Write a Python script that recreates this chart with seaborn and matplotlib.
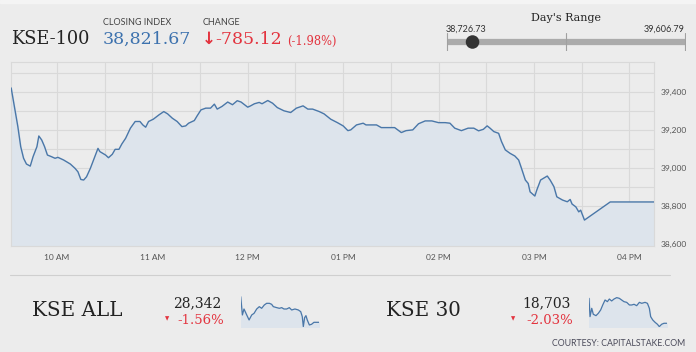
import numpy as np
import pandas as pd
import matplotlib
matplotlib.use("Agg")
import matplotlib.pyplot as plt
import seaborn as sns

# ---- data ----
kse100_time = [9.52, 9.56, 9.59, 9.62, 9.65, 9.68, 9.72, 9.75, 9.79, 9.81, 9.84, 9.87, 9.90, 9.94, 9.98,
               10.01, 10.07, 10.14, 10.19, 10.22, 10.25, 10.28, 10.31, 10.35, 10.39, 10.43, 10.45, 10.51,
               10.54, 10.58, 10.61, 10.65, 10.68, 10.72, 10.77, 10.82, 10.87, 10.90, 10.93, 10.96, 11.01,
               11.07, 11.12, 11.16, 11.21, 11.26, 11.31, 11.35, 11.38, 11.44, 11.47, 11.51, 11.56, 11.61,
               11.65, 11.68, 11.73, 11.79, 11.84, 11.89, 11.93, 12.00, 12.03, 12.07, 12.12, 12.15, 12.21,
               12.26, 12.31, 12.38, 12.45, 12.51, 12.58, 12.63, 12.68, 12.75, 12.80, 12.87, 12.94, 13.00,
               13.05, 13.08, 13.14, 13.21, 13.24, 13.35, 13.40, 13.54, 13.61, 13.66, 13.73, 13.79, 13.86,
               13.93, 14.00, 14.07, 14.12, 14.17, 14.24, 14.31, 14.37, 14.42, 14.47, 14.51, 14.54, 14.58,
               14.63, 14.66, 14.70, 14.75, 14.80, 14.84, 14.87, 14.91, 14.94, 14.96, 15.01, 15.03, 15.07,
               15.10, 15.14, 15.17, 15.21, 15.24, 15.30, 15.35, 15.38, 15.40, 15.44, 15.47, 15.49, 15.51,
               15.53, 15.80, 16.26]
kse100_value = [39420, 39305, 39217, 39112, 39051, 39021, 39010, 39060, 39112, 39168, 39147, 39112, 39068,
                39060, 39051, 39056, 39042, 39021, 38998, 38980, 38940, 38937, 38954, 38998, 39051, 39103,
                39086, 39068, 39054, 39072, 39098, 39098, 39126, 39156, 39209, 39244, 39244, 39226, 39214,
                39244, 39256, 39279, 39296, 39284, 39261, 39244, 39217, 39221, 39235, 39249, 39274, 39305,
                39314, 39314, 39335, 39309, 39323, 39346, 39332, 39353, 39346, 39319, 39326, 39337, 39344,
                39337, 39354, 39340, 39317, 39300, 39291, 39314, 39326, 39309, 39309, 39296, 39284, 39256,
                39238, 39221, 39196, 39200, 39226, 39235, 39226, 39226, 39212, 39212, 39186, 39196, 39200,
                39232, 39247, 39247, 39238, 39238, 39235, 39209, 39196, 39209, 39209, 39195, 39203, 39221,
                39209, 39191, 39182, 39139, 39095, 39077, 39063, 39042, 38998, 38937, 38919, 38875, 38853,
                38884, 38937, 38946, 38958, 38937, 38902, 38849, 38832, 38823, 38835, 38811, 38796, 38770,
                38779, 38753, 38727, 38822, 38822]

kse_all_time = [9.50, 9.63, 9.75, 9.96, 10.14, 10.34, 10.52, 10.72, 10.92, 11.10, 11.30, 11.48, 11.69,
                11.86, 11.99, 12.25, 12.45, 12.63, 12.80, 13.01, 13.21, 13.39, 13.64, 13.90, 14.08, 14.20,
                14.28, 14.38, 14.48, 14.58, 14.74, 14.91, 15.09, 15.30, 15.50]
kse_all_value = [28758, 28461, 28558, 28461, 28380, 28461, 28488, 28558, 28596, 28569, 28623, 28650, 28650,
                 28634, 28596, 28580, 28569, 28580, 28558, 28558, 28580, 28542, 28558, 28542, 28515, 28434,
                 28272, 28418, 28450, 28380, 28299, 28310, 28342, 28342, 28342]

kse30_time = [9.50, 9.58, 9.71, 9.83, 10.04, 10.22, 10.40, 10.56, 10.74, 10.92, 11.07, 11.25, 11.43, 11.64,
              11.84, 12.02, 12.20, 12.41, 12.62, 12.80, 12.98, 13.18, 13.39, 13.57, 13.83, 14.01, 14.16,
              14.26, 14.42, 14.60, 14.78, 14.93, 15.11, 15.29, 15.50]
kse30_value = [19063, 18799, 18919, 18833, 18813, 18847, 18895, 18967, 19039, 19015, 19053, 19025, 19053,
               19073, 19063, 19039, 19015, 19005, 18967, 18967, 18977, 18957, 19005, 18991, 19005, 18991,
               18919, 18799, 18751, 18717, 18689, 18655, 18689, 18703, 18703]

hour_ticks = [10, 11, 12, 13, 14, 15, 16]
hour_labels = ["10 AM", "11 AM", "12 PM", "01 PM", "02 PM", "03 PM", "04 PM"]
price_ticks = [38600, 38800, 39000, 39200, 39400]

closing_index = 38821.67
change_points = -785.12
change_pct = -1.98
day_low = 38726.73
day_high = 39606.79

sub_names = ["KSE ALL", "KSE 30"]
sub_close = ["28,342", "18,703"]
sub_change = ["-1.56%", "-2.03%"]

# ---- style ----
BG = "#ececec"
GRID = "#d9d9d9"
LINE = "#4a77a8"
FILL = "#dde4ec"
RED = "#e3343f"
BLUE = "#3d72ae"
DARK = "#232323"
SANS = ["Lato", "DejaVu Sans"]
SERIF = ["DejaVu Serif"]

sns.set_style("white")
plt.rcParams["font.family"] = SANS

W, H = 696, 352
fig = plt.figure(figsize=(W / 100, H / 100), dpi=100, facecolor=BG)


def box(x0, y0, x1, y1):
    # pixel box (top-left origin) -> figure rect
    return [x0 / W, 1 - y1 / H, (x1 - x0) / W, (y1 - y0) / H]


def txt(x, y, s, **kw):
    kw.setdefault("va", "center")
    fig.text(x / W, 1 - y / H, s, **kw)


# lighter strip along the very top
fig.add_artist(plt.Rectangle((0, 1 - 3 / H), 1, 3 / H, color="#f4f4f4", transform=fig.transFigure))

# ---- main chart ----
ax = fig.add_axes(box(10.5, 62, 654, 246))
ax.set_facecolor(BG)
ylo, yhi = 38591, 39556
df = pd.DataFrame({"time": kse100_time, "value": kse100_value})
ax.fill_between(df["time"], df["value"], ylo, color=FILL, zorder=1)
sns.lineplot(data=df, x="time", y="value", ax=ax, color=LINE, linewidth=1.0, zorder=3)
ax.set_xlim(9.513, 16.259)
ax.set_ylim(ylo, yhi)
ax.set_xticks(hour_ticks)
ax.set_xticklabels(hour_labels)
ax.set_xticks([h + 0.5 for h in hour_ticks[:-1]], minor=True)
ax.yaxis.tick_right()
ax.set_yticks(price_ticks)
ax.set_yticklabels([f"{p:,}" for p in price_ticks])
ax.set_yticks([p + 100 for p in price_ticks], minor=True)
ax.grid(True, which="both", color=GRID, linewidth=0.8, zorder=0)
ax.set_axisbelow(True)
ax.tick_params(which="both", length=0)
ax.tick_params(axis="x", labelsize=6, labelcolor="#555555", pad=6)
ax.tick_params(axis="y", labelsize=6, labelcolor="#555555", pad=4.5)
ax.set_xlabel("")
ax.set_ylabel("")
for sp in ax.spines.values():
    sp.set_color(GRID)
    sp.set_linewidth(0.8)

# ---- header ----
txt(11, 39, "KSE-100", family=SERIF, fontsize=12.8, color=DARK, ha="left")
txt(103, 22.5, "CLOSING INDEX", fontsize=6.5, color="#444444", ha="left")
txt(103, 39, f"{closing_index:,.2f}", family=SERIF, fontsize=12.5, color=BLUE, ha="left")
txt(203, 22.5, "CHANGE", fontsize=6.5, color="#444444", ha="left")
txt(202, 39, "\u2193", family=["DejaVu Sans"], fontsize=12, color=RED, ha="left", fontweight="bold")
txt(215, 39, f"{change_points:,.2f}", family=SERIF, fontsize=12.5, color=RED, ha="left")
txt(287, 41, f"({change_pct:.2f}%)", family=SERIF, fontsize=8.3, color=RED, ha="left")

# ---- day's range ----
txt(566, 18, "Day's Range", family=SERIF, fontsize=8, color=DARK, ha="center")
txt(446, 29, f"{day_low:,.2f}", fontsize=6.5, color="#333333", ha="left")
txt(685, 29, f"{day_high:,.2f}", fontsize=6.5, color="#333333", ha="right")
rax = fig.add_axes(box(446, 33, 686, 51))
rax.set_xlim(day_low - 3, day_high + 3)
rax.set_ylim(-1, 1)
rax.axis("off")
rax.plot([day_low, day_high], [0, 0], color="#ababab", linewidth=4.5, solid_capstyle="butt")
for v in [day_low, (day_low + day_high) / 2, day_high]:
    rax.plot([v, v], [-1, 1], color="#a0a0a0", linewidth=0.8)
sns.scatterplot(x=[closing_index], y=[0], ax=rax, s=95, color="#333333", edgecolor="none", zorder=5)

# ---- separator ----
fig.add_artist(plt.Line2D([10 / W, 670 / W], [1 - 275 / H] * 2, color="#cfcfcf", linewidth=0.8))

# ---- sub indices ----
sub_series = [(kse_all_time, kse_all_value, (28261, 28785)), (kse30_time, kse30_value, (18645, 19111))]
name_x = [32, 386]
num_x = [197.5, 547]
tri_x = [167, 513]
spark_box = [(240.7, 295, 319.3, 327.3), (589, 295, 666.7, 327.3)]
for i in range(2):
    txt(name_x[i], 311, sub_names[i], family=SERIF, fontsize=14.3, color=DARK, ha="left")
    txt(num_x[i], 303.5, sub_close[i], family=SERIF, fontsize=10, color=DARK, ha="center")
    txt(num_x[i] + 3, 320, sub_change[i], family=SERIF, fontsize=9.5, color=RED, ha="center")
    txt(tri_x[i], 319, "\u25bc", family=["DejaVu Sans"], fontsize=4, color=RED, ha="center")
    t, v, (lo, hi) = sub_series[i]
    sax = fig.add_axes(box(*spark_box[i]))
    sax.fill_between(t, v, lo, color=FILL)
    sns.lineplot(x=t, y=v, ax=sax, color=LINE, linewidth=0.9)
    sax.set_xlim(t[0], t[-1])
    sax.set_ylim(lo, hi)
    sax.axis("off")

txt(685, 343, "COURTESY: CAPITALSTAKE.COM", fontsize=6.3, color="#4a4a5a", ha="right")

fig.savefig("out.png", dpi=100, facecolor=BG)
